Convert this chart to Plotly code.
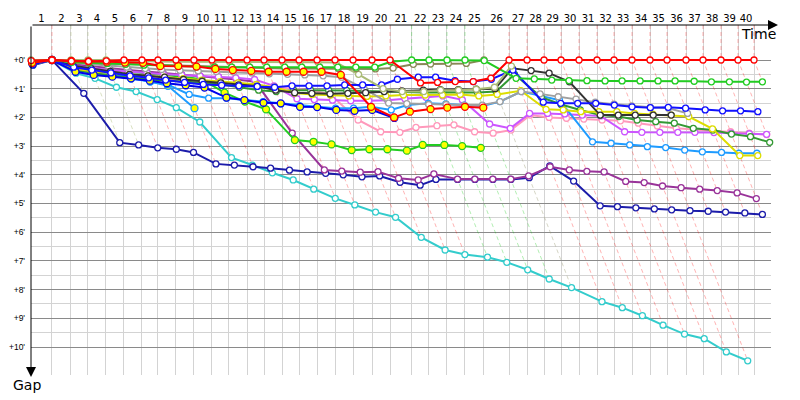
import plotly.graph_objects as go

N = None
# leader's cumulative race time (minutes) at the end of laps 0..40
lap_time = [0.00, 1.90, 3.62, 5.16, 6.79, 8.42, 10.05, 11.50, 13.13, 14.76, 16.39,
            17.93, 19.57, 21.11, 22.74, 24.28, 25.91, 27.54, 29.17, 30.89, 32.52,
            34.48, 36.05, 37.68, 39.31, 41.03, 43.30, 44.93, 46.47, 48.01, 49.64,
            51.27, 52.81, 54.44, 56.07, 57.61, 59.33, 60.87, 62.50, 64.04, 65.49]
lap_labels = [str(i) for i in range(1, 41)]
gap_ticks = list(range(11))
gap_labels = ["+%d'" % i for i in gap_ticks]

# gap to leader (minutes) per lap 0..40, one list per driver
cyan = [0.15, 0, 0.46, 0.64, 0.95, 1.1, 1.38, 1.66, 2.16, 3.4, 3.66, 3.93, 4.18, 4.5, 4.82, 5.05, 5.3,
        5.48, 6.18, 6.62, 6.78, 6.87, 7.05, 7.31, 7.63, 7.93, 8.42, 8.63, 8.91, 9.24, 9.55, 9.71,
        10.17, 10.48] + [N] * 7
navy = [0.18, 0, 1.16, 2.88, 2.96, 3.06, 3.11, 3.22, 3.62, 3.66, 3.72, 3.77, 3.84, 3.9, 3.95, 4.0,
        4.07, 4.04, 4.26, 4.36, 4.16, 4.16, 4.16, 4.16, 4.16, 4.1, 3.69, 4.22, 5.08, 5.11, 5.15,
        5.19, 5.22, 5.25, 5.27, 5.3, 5.33, 5.38] + [N] * 3
purple = [0.1, 0, 0.15, 0.22, 0.3, 0.35, 0.4, 0.45, 0.5, 0.55, 0.6, 0.68, 0.76, 2.55, 3.83, 3.87,
          3.91, 3.89, 4.12, 4.18, 3.97, 4.15, 4.15, 4.15, 4.15, 4.04, 3.72, 3.83, 3.88, 3.9, 4.23,
          4.27, 4.39, 4.45, 4.5, 4.55, 4.63, 4.83] + [N] * 3
green_y = [0.12, 0, 0.2, 0.3, 0.35, 0.4, 0.45, 0.52, 0.58, 0.67, 1.14, 1.45, 1.72, 2.79, 2.85, 2.94,
           3.14, 3.11, 3.11, 3.16, 2.96, 2.96, 3.0, 3.06] + [N] * 17
azure_y = [0.15, 0, 0.35, 0.45, 0.55, 0.65, 0.75, 0.9, 1.68] + [N] * 32
pink = [0.12, 0, 0.3, 0.4, 0.5, 0.55, 0.6, 0.65, 0.7, 0.75, 0.8, 0.85, 0.9, 0.95, 1.0, 1.05, 1.2,
        2.09, 2.5, 2.52, 2.35, 2.29, 2.26, 2.5, 2.55, 2.44, 1.92, 2.0, 2.03, 2.06, 2.09, 2.12, 2.2,
        2.3, 2.38, 2.42, 2.46, 2.5, 2.55, 2.6, N]
violet = [0.1, 0, 0.2, 0.28, 0.35, 0.4, 0.45, 0.5, 0.52, 0.55, 0.58, 0.62, 0.68, 0.9, 1.35, 1.38,
          1.4, 1.42, 1.42, 1.4, 1.35, 1.3, 1.25, 1.39, 2.23, 2.38, 1.86, 1.86, 1.88, 1.92, 1.95,
          2.5, 2.52, 2.52, 2.52, 2.52, 2.53, 2.55, 2.57, 2.59, N]
azure = [0.1, 0, 0.3, 0.4, 0.5, 0.6, 0.76, 0.85, 1.2, 1.33, 1.33, 1.39, 1.45, 1.53, 1.59, 1.63,
         1.68, 1.68, 1.63, 1.74, 1.57, 1.51, 1.53, 1.57, 1.6, 1.45, 1.1, 1.25, 1.4, 2.85, 2.9,
         2.96, 3.02, 3.05, 3.14, 3.2, 3.22, 3.25, 3.25, N, N]
dkgreen = [0.1, 0, 0.35, 0.45, 0.55, 0.62, 0.68, 0.72, 0.75, 0.8, 0.85, 0.95, 1.05, 1.1, 1.05,
           1.05, 1.05, 1.06, 1.08, 1.1, 1.13, 1.13, 1.12, 1.12, 1.13, 1.1, 0.5, 1.3, 1.55, 1.74,
           1.92, 1.97, 2.09, 2.15, 2.2, 2.38, 2.44, 2.58, 2.67, 2.87, N]
yellow = [0.15, 0, 0.3, 0.4, 0.45, 0.5, 0.55, 0.6, 0.65, 0.7, 0.75, 0.8, 0.85, 0.95, 1.15, 1.2,
          1.22, 1.25, 1.27, 1.25, 1.22, 1.22, 1.22, 1.2, 1.25, 1.2, 1.07, 1.72, 1.74, 1.8, 1.8,
          1.8, 1.86, 1.89, 1.92, 1.97, 2.4, 3.33, 3.33, N, N]
gray = [0.05, 0, 0.1, 0.15, 0.2, 0.25, 0.3, 0.33, 0.36, 0.38, 0.4, 0.42, 0.45, 0.48, 0.5, 0.52,
        0.55, 0.6, 1.0, 1.5, 1.52, 1.55, 1.55, 1.57, 1.57, 1.45, 1.1, 1.18, 1.28, 1.36, 1.47,
        1.54, 1.6, 1.65, 1.68, 1.86] + [N] * 5
black = [0.1, 0, 0.2, 0.3, 0.4, 0.5, 0.55, 0.6, 0.68, 0.74, 0.8, 0.87, 0.91, 1.05, 1.14, 1.16,
         1.18, 1.16, 1.14, 1.1, 1.08, 1.05, 1.03, 1.03, 1.02, 1.0, 0.29, 0.37, 0.46, 0.76, 1.92,
         1.92, 1.92, 1.92, 1.92] + [N] * 6
blue_y = [0.15, 0, 0.41, 0.52, 0.58, 0.64, 0.72, 0.81, 0.88, 0.96, 1.31, 1.4, 1.49, 1.51, 1.63,
          1.64, 1.74, 1.77, 1.74, 2.02] + [N] * 21
blue = [0.12, 0, 0.25, 0.35, 0.45, 0.55, 0.62, 0.7, 0.78, 0.85, 0.88, 0.9, 0.92, 0.95, 0.9, 0.9,
        0.9, 0.87, 0.87, 0.87, 0.67, 0.6, 0.6, 0.72, 0.75, 0.67, 0.35, 1.47, 1.51, 1.51, 1.51,
        1.57, 1.63, 1.66, 1.65, 1.68, 1.74, 1.77, 1.77, 1.8, N]
pale_olive = [0.0, 0, 0, 0, 0, 0.03, 0.05, 0.05, 0.06, 0.06, 0.07, 0.07, 0.07, 0.08, 0.08, 0.08,
              0.08, 0.09, 0.5, 1.0, 1.1, 1.1, 1.05, 1.05, 1.02, 0.95, 0.21] + [N] * 14
olive = [0.08, 0, 0.06, 0.1, 0.12, 0.14, 0.16, 0.18, 0.2, 0.22, 0.24, 0.26, 0.28, 0.3, 0.3, 0.3,
         0.3, 0.3, 0.3, 0.31, 0.28, 0.15, 0.14, 0.12, 0.12, 0] + [N] * 15
green = [0.05, 0, 0.08, 0.1, 0.12, 0.15, 0.18, 0.2, 0.22, 0.24, 0.25, 0.25, 0.25, 0.25, 0.25,
         0.25, 0.25, 0.25, 0.25, 0.25, 0.06, 0, 0, 0, 0, 0.02, 0.64, 0.66, 0.7, 0.72, 0.72, 0.73,
         0.73, 0.73, 0.73, 0.73, 0.74, 0.76, 0.76, 0.77, 0.76]
red_y = [0.1, 0, 0.03, 0.05, 0.06, 0.09, 0.1, 0.21, 0.21, 0.23, 0.31, 0.35, 0.38, 0.41, 0.41,
         0.41, 0.41, 0.52, 1.63, 2.0, 1.8, 1.71, 1.66, 1.63, 1.66] + [N] * 16
red = [0.02, 0, 0.04, 0.05, 0.03] + [0] * 16 + [0.8, 0.78, 0.75, 0.75, 0.63] + [0] * 15

# drawing order (first = bottom); line colour, marker fill, lap-line colour when leading
series = [
    (cyan, '#33CCCC', 'white', None),
    (navy, '#1C1CAA', 'white', None),
    (purple, '#993399', 'white', None),
    (green_y, '#22CC22', '#FFFF00', None),
    (azure_y, '#1E9BFF', '#FFFF00', None),
    (pink, '#FF99BB', 'white', None),
    (violet, '#CC55FF', 'white', None),
    (azure, '#1E9BFF', 'white', None),
    (dkgreen, '#339933', 'white', None),
    (yellow, '#DDDD00', 'white', None),
    (gray, '#A0A0A0', 'white', None),
    (black, '#333333', 'white', None),
    (blue_y, '#0000EE', '#FFFF00', None),
    (blue, '#1111FF', 'white', None),
    (pale_olive, '#AABB77', 'white', 'rgba(170,187,119,0.45)'),
    (olive, '#888855', 'white', 'rgba(150,150,110,0.40)'),
    (green, '#22CC22', 'white', 'rgba(0,200,0,0.30)'),
    (red_y, '#FF0000', '#FFFF00', 'rgba(255,0,0,0.30)'),
    (red, '#FF0000', 'white', 'rgba(255,0,0,0.30)'),
]

PX_X = 11.04   # pixels per minute (x)
PX_Y = 28.7    # pixels per minute (y)
PLOT_W, PLOT_H = 740, 350
X_RANGE = [0, PLOT_W / PX_X]
Y_TOP = -35 / PX_Y
Y_RANGE = [Y_TOP + PLOT_H / PX_Y, Y_TOP]
PAGE_OFF = 8   # default body margin of the html page

fig = go.Figure()

# lap lines: vertical to the leader, then diagonal down to the last car on that lap
priority = list(reversed(series))
for n in range(1, len(lap_time)):
    vals = [(s[0][n], s) for s in priority if s[0][n] is not None]
    gmin = min(v for v, _ in vals)
    gmax = max(v for v, _ in vals)
    leader = next(s for v, s in vals if v == gmin)
    col = leader[3] or 'rgba(255,0,0,0.30)'
    t = lap_time[n]
    fig.add_trace(go.Scatter(x=[t, t, t + gmax], y=[Y_TOP, 0, gmax], mode='lines',
                             line=dict(color=col, width=1, dash='4px,3px'),
                             hoverinfo='skip'))

for gaps, col, fill, _ in series:
    xs = [lap_time[i] + g for i, g in enumerate(gaps) if g is not None]
    ys = [g for g in gaps if g is not None]
    fig.add_trace(go.Scatter(x=xs, y=ys, mode='lines+markers', cliponaxis=False,
                             line=dict(color=col, width=2),
                             marker=dict(symbol='circle', size=7 if fill != 'white' else 6,
                                         color=fill, line=dict(color=col, width=1.3))))

mid = [(lap_time[i - 1] + lap_time[i]) / 2 for i in range(1, len(lap_time))]

L, T = 31 - PAGE_OFF, 25 - PAGE_OFF
fig.update_layout(
    width=800, height=400, showlegend=False,
    margin=dict(l=L, r=800 - L - PLOT_W, t=T, b=400 - T - PLOT_H, pad=0, autoexpand=False),
    plot_bgcolor='white', paper_bgcolor='white',
    xaxis=dict(range=X_RANGE, side='top', tickmode='array', tickvals=mid, ticktext=lap_labels,
               showgrid=False, zeroline=False, showline=False, ticks='', automargin=False,
               tickfont=dict(family='DejaVu Sans', size=10, color='black'),
               ticklabelstandoff=0,
               minor=dict(tickmode='array', tickvals=lap_time[1:], showgrid=True,
                          gridcolor='#d3d3d3', gridwidth=1, ticks='')),
    yaxis=dict(range=Y_RANGE, tickmode='array', tickvals=gap_ticks, ticktext=gap_labels,
               showgrid=True, gridcolor='#8a8a8a', gridwidth=1, zeroline=False, automargin=False,
               showline=False, ticks='', ticklabelstandoff=5,
               tickfont=dict(family='Liberation Sans', size=8.5, color='black'),
               minor=dict(tickmode='array', tickvals=[i + 0.5 for i in range(10)],
                          showgrid=True, gridcolor='#d3d3d3', gridwidth=1, ticks='')),
)

# axis arrows
fig.add_annotation(xref='paper', yref='paper', x=(778 - 31) / PLOT_W, y=1, ax=-(778 - 31), ay=0,
                   text='', showarrow=True, arrowhead=2, arrowsize=2, arrowwidth=1,
                   arrowcolor='black')
fig.add_annotation(xref='paper', yref='paper', x=0, y=(375 - 377) / PLOT_H, ax=0, ay=-352,
                   text='', showarrow=True, arrowhead=2, arrowsize=2, arrowwidth=1,
                   arrowcolor='black')
fig.add_annotation(xref='paper', yref='paper', x=(778 - 31) / PLOT_W, y=(375 - 34) / PLOT_H,
                   xanchor='right', yanchor='middle', text='Time', showarrow=False,
                   font=dict(family='DejaVu Sans', size=14, color='black'))
fig.add_annotation(xref='paper', yref='paper', x=(11 - 31) / PLOT_W, y=(375 - 385) / PLOT_H,
                   xanchor='left', yanchor='middle', text='Gap', showarrow=False,
                   font=dict(family='DejaVu Sans', size=14, color='black'))

fig.write_html('out.html')
